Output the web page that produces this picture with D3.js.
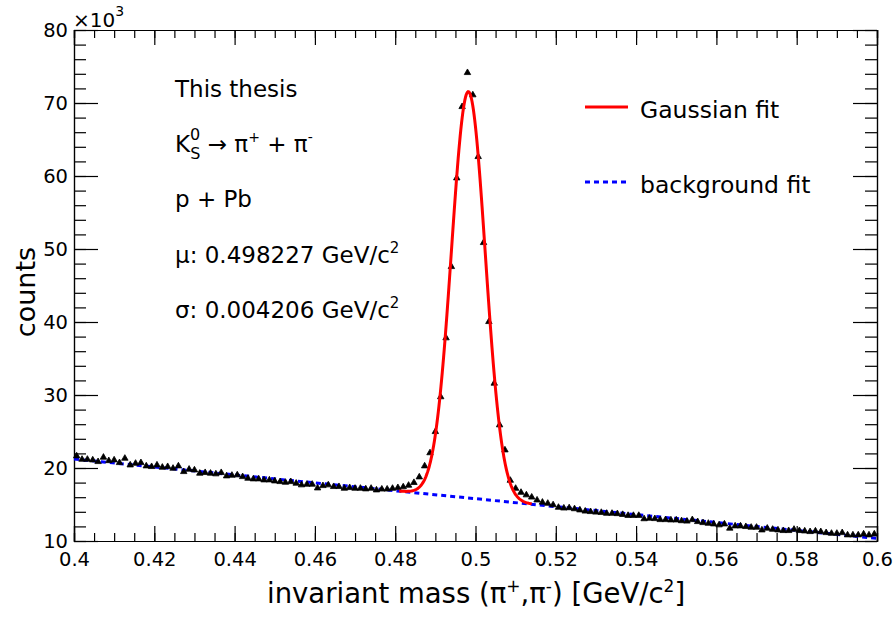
<!DOCTYPE html>
<html>
  <meta charset="utf-8" />
  <head>
    <title>K0s invariant mass</title>
    <script src="https://d3js.org/d3.v7.min.js"></script>
  </head>
  <style>
    body { margin: 0; background: #fff; }
    text { font-family: "DejaVu Sans", sans-serif; fill: #000; }
  </style>
  <body>
    <svg width="895" height="619"></svg>
    <script>
      // histogram: 150 bins between 0.4 and 0.6, counts
      var xMin = 0.4, xMax = 0.6, nBins = 150;
      var counts = [
        21640, 21180, 21180, 21090, 20860, 21460, 20990, 21090, 20720, 21320,
        20400, 20630, 20720, 20270, 20180, 20400, 20090, 20180, 19950, 20270,
        19490, 19820, 19720, 19270, 19360, 19270, 19180, 19360, 18900, 18990,
        19040, 18800, 18580, 18490, 18490, 18350, 18350, 18210, 18120, 18030,
        18120, 17900, 17670, 17760, 17760, 17250, 17570, 17670, 17440, 17440,
        17210, 17300, 17210, 17210, 17120, 17210, 16980, 17100, 17100, 17200,
        17300, 17400, 17620, 18000, 18760, 20270, 22070, 24970, 29740, 37810,
        47575, 59720, 69490, 74150, 71100, 62640, 50860, 40040, 31600, 25890,
        22460, 18300, 17200, 16650, 16300, 16000, 15600, 15300, 15150, 14950,
        14600, 14500, 14540, 14400, 14240, 14080, 14010, 13940, 13900, 13780,
        13780, 13730, 13620, 13490, 13490, 13490, 13030, 13100, 13050, 12910,
        12910, 12870, 12870, 12760, 12710, 12910, 12640, 12500, 12410, 12320,
        12190, 12320, 11740, 12050, 12050, 11960, 11870, 11870, 11500, 11740,
        11590, 11500, 11410, 11410, 11590, 11410, 11360, 11270, 11360, 11270,
        11130, 11040, 11040, 11130, 10820, 10820, 10820, 10950, 10820, 10950
      ];

      // fit results
      var gausMean = 0.498227, gausSigma = 0.004206, gausAmp = 55660;
      var bgAt04 = 21230, bgAt06 = 10360;
      var fitRange = [0.481, 0.514];

      var xTicks = [0.4, 0.42, 0.44, 0.46, 0.48, 0.5, 0.52, 0.54, 0.56, 0.58, 0.6];
      var yTicks = [10, 20, 30, 40, 50, 60, 70, 80];

      var infoLines = ["This thesis", "K", "p + Pb", "\u03bc: 0.498227 GeV/c", "\u03c3: 0.004206 GeV/c"];
      var legendLabels = ["Gaussian fit", "background fit"];

      var svg = d3.select("svg"),
        margin = {top: 30, right: 18, bottom: 78, left: 74},
        width = +svg.attr("width") - margin.left - margin.right,
        height = +svg.attr("height") - margin.top - margin.bottom,
        g = svg.append("g").attr("transform", "translate(" + margin.left + "," + margin.top + ")");

      var x = d3.scaleLinear().domain([xMin, xMax]).range([0, width]);
      var y = d3.scaleLinear().domain([10, 80]).range([height, 0]);

      function bg(m) { return bgAt04 + (m - xMin) / (xMax - xMin) * (bgAt06 - bgAt04); }
      function total(m) {
        var z = (m - gausMean) / gausSigma;
        return gausAmp * Math.exp(-0.5 * z * z) + bg(m);
      }

      // minor ticks first, then major with labels
      var xMinor = d3.range(0, 41).map(function(i) { return xMin + i * 0.005; });
      var yMinor = d3.range(0, 36).map(function(i) { return 10 + i * 2; });

      g.append("g").attr("transform", "translate(0," + height + ")")
        .call(d3.axisBottom(x).tickValues(xMinor).tickSize(-8).tickFormat(""));
      g.append("g")
        .call(d3.axisTop(x).tickValues(xMinor).tickSize(-8).tickFormat(""));
      g.append("g")
        .call(d3.axisLeft(y).tickValues(yMinor).tickSize(-12).tickFormat(""));
      g.append("g").attr("transform", "translate(" + width + ",0)")
        .call(d3.axisRight(y).tickValues(yMinor).tickSize(-12).tickFormat(""));

      var xAxis = g.append("g").attr("class", "x axis")
        .attr("transform", "translate(0," + height + ")")
        .call(d3.axisBottom(x).tickValues(xTicks).tickSize(-15).tickPadding(11)
          .tickFormat(function(d) { return d3.format("")(+d.toFixed(2)); }));
      g.append("g")
        .call(d3.axisTop(x).tickValues(xTicks).tickSize(-15).tickFormat(""));
      var yAxis = g.append("g").attr("class", "y axis")
        .call(d3.axisLeft(y).tickValues(yTicks).tickSize(-24).tickPadding(6));
      g.append("g").attr("transform", "translate(" + width + ",0)")
        .call(d3.axisRight(y).tickValues(yTicks).tickSize(-24).tickFormat(""));

      g.selectAll(".domain").attr("stroke", "#000").attr("stroke-width", 1.2);
      g.selectAll(".tick line").attr("stroke", "#000").attr("stroke-width", 1.2);
      g.selectAll(".tick text").attr("font-size", 19.5).attr("font-family", "DejaVu Sans").attr("fill", "#000");

      // x10^3 above the y axis
      var expo = svg.append("text").attr("x", 73).attr("y", 27).attr("font-size", 20);
      expo.append("tspan").text("\u00d710");
      expo.append("tspan").attr("dy", -11).attr("font-size", 14).text("3");

      // background fit (dashed blue)
      var bgLine = d3.line()
        .x(function(d) { return x(d); })
        .y(function(d) { return y(bg(d) / 1000); });
      g.append("path")
        .datum([xMin, xMax])
        .attr("d", bgLine)
        .attr("fill", "none")
        .attr("stroke", "#0000ff")
        .attr("stroke-width", 3)
        .attr("stroke-dasharray", "5,4");

      // data points
      g.append("g").selectAll("path")
        .data(counts)
        .enter().append("path")
          .attr("transform", function(d, i) {
            var c = xMin + (i + 0.5) * (xMax - xMin) / nBins;
            return "translate(" + x(c) + "," + y(d / 1000) + ")";
          })
          .attr("d", d3.symbol().type(d3.symbolTriangle).size(18))
          .attr("fill", "#000")
          .attr("stroke", "#000")
          .attr("stroke-width", 0.8);

      // gaussian + background fit (red)
      var fitX = d3.range(0, 201).map(function(i) { return fitRange[0] + i * (fitRange[1] - fitRange[0]) / 200; });
      g.append("path")
        .datum(fitX)
        .attr("d", d3.line()
          .x(function(d) { return x(d); })
          .y(function(d) { return y(total(d) / 1000); }))
        .attr("fill", "none")
        .attr("stroke", "#ff0000")
        .attr("stroke-width", 3);

      // info text block
      var info = svg.append("g").attr("font-size", 23);
      info.append("text").attr("x", 175).attr("y", 97).text(infoLines[0]);
      var k = info.append("text").attr("x", 175).attr("y", 152);
      k.append("tspan").text(infoLines[1]);
      k.append("tspan").attr("font-size", 16).attr("dy", -12).text("0");
      k.append("tspan").attr("font-size", 16).attr("dx", -10).attr("dy", 19).text("S");
      k.append("tspan").attr("dy", -7).text(" \u2192 \u03c0");
      k.append("tspan").attr("font-size", 14).attr("dy", -10).text("+");
      k.append("tspan").attr("dy", 10).text(" + \u03c0");
      k.append("tspan").attr("font-size", 14).attr("dy", -10).text("-");
      info.append("text").attr("x", 175).attr("y", 207).text(infoLines[2]);
      [3, 4].forEach(function(n, j) {
        var t = info.append("text").attr("x", 175).attr("y", 263 + j * 55);
        t.append("tspan").text(infoLines[n]);
        t.append("tspan").attr("font-size", 15).attr("dy", -10).text("2");
      });

      // legend
      var legend = svg.append("g").attr("font-size", 23.5);
      legend.append("line").attr("x1", 585).attr("x2", 628).attr("y1", 107).attr("y2", 107)
        .attr("stroke", "#ff0000").attr("stroke-width", 3);
      legend.append("text").attr("x", 640).attr("y", 118).text(legendLabels[0]);
      legend.append("line").attr("x1", 585).attr("x2", 626).attr("y1", 182).attr("y2", 182)
        .attr("stroke", "#0000ff").attr("stroke-width", 3).attr("stroke-dasharray", "5,4");
      legend.append("text").attr("x", 640).attr("y", 193).text(legendLabels[1]);

      // axis titles
      var xt = svg.append("text").attr("x", 267).attr("y", 603).attr("font-size", 27.5);
      xt.append("tspan").text("invariant mass (\u03c0");
      xt.append("tspan").attr("font-size", 17).attr("dy", -11).text("+");
      xt.append("tspan").attr("dy", 11).text(",\u03c0");
      xt.append("tspan").attr("font-size", 17).attr("dy", -11).text("-");
      xt.append("tspan").attr("dy", 11).text(") [GeV/c");
      xt.append("tspan").attr("font-size", 17).attr("dy", -11).text("2");
      xt.append("tspan").attr("dy", 11).text("]");

      svg.append("text")
        .attr("transform", "translate(35,292) rotate(-90)")
        .attr("text-anchor", "middle")
        .attr("font-size", 27)
        .text("counts");
    </script>
  </body>
</html>
